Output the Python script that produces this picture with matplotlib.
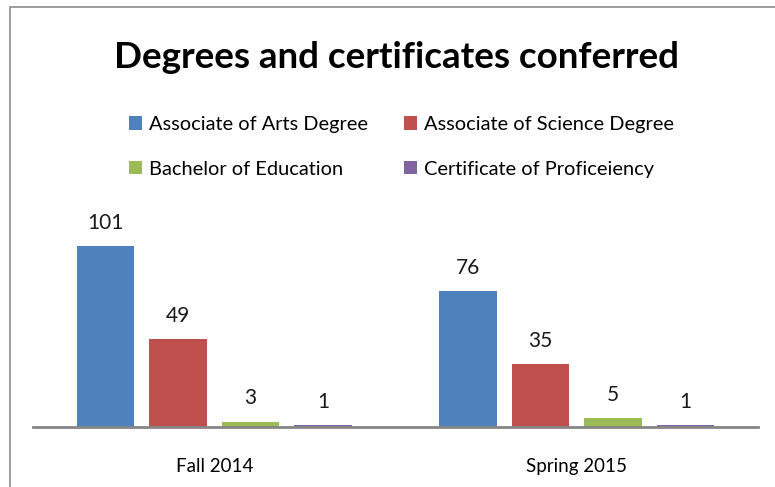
import numpy as np
import matplotlib.pyplot as plt
from matplotlib.patches import Rectangle

plt.rcParams['font.family'] = ['Lato', 'DejaVu Sans']

terms = ["Fall 2014", "Spring 2015"]
programs = ["Associate of Arts Degree", "Associate of Science Degree",
            "Bachelor of Education", "Certificate of Proficeiency"]
arts = [101, 76]
science = [49, 35]
bachelor = [3, 5]
certificate = [1, 1]
colors = ["#4F81BD", "#C0504D", "#9BBB59", "#8064A2"]

W, H = 775, 487
fig = plt.figure(figsize=(W / 100, H / 100), dpi=100)
ax = fig.add_axes([33 / W, 60 / H, 725 / W, 215 / H])

x = np.arange(len(terms))
series = [arts, science, bachelor, certificate]
handles = []
for i, vals in enumerate(series):
    b = ax.bar(x + (i - 1.5) * 0.2, vals, 0.158, color=colors[i], label=programs[i])
    ax.bar_label(b, padding=9.5, fontsize=15, color="#1a1a1a")
    handles.append(b)

ax.set_xlim(-0.5, 1.5)
ax.set_ylim(0, 120)
ax.set_yticks([])
ax.set_xticks(x)
ax.set_xticklabels(terms, fontsize=13.5)
ax.tick_params(axis="x", length=0, pad=22)
for s in ["top", "right", "left"]:
    ax.spines[s].set_visible(False)
ax.spines["bottom"].set_color("#868686")
ax.spines["bottom"].set_linewidth(2)

fig.text(397 / W, 1 - 57 / H, "Degrees and certificates conferred",
         ha="center", va="center", fontsize=26.5, fontweight="bold")

# legend is filled row by row in the reference
order = [0, 2, 1, 3]
fig.legend(handles=[handles[k] for k in order], labels=[programs[k] for k in order],
           ncol=2, frameon=False,
           loc="upper left", bbox_to_anchor=(129 / W, 1 - 116 / H),
           fontsize=14.4, handlelength=0.65, handleheight=0.65,
           handletextpad=0.35, columnspacing=1.8, labelspacing=1.38,
           borderpad=0, borderaxespad=0)

fig.patches.append(Rectangle((10 / W, -0.1), 1.2, 1.1 - 7 / H,
                             transform=fig.transFigure, fill=False,
                             edgecolor="#8c8c8c", linewidth=1.2))

fig.savefig("out.png", dpi=100)
